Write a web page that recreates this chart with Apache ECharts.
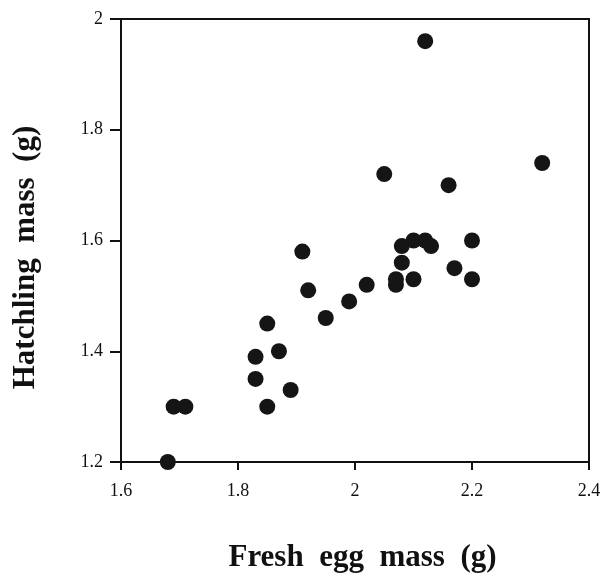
<!DOCTYPE html>
<html>
<head>
<meta charset="utf-8">
<script src="https://cdn.jsdelivr.net/npm/echarts@6/dist/echarts.min.js"></script>
<style>
html,body{margin:0;padding:0;background:#fff;}
#chart{width:603px;height:573px;}
</style>
</head>
<body>
<div id="chart"></div>
<script>
// Fresh egg mass (g)
const eggMass = [2.12, 2.05, 2.16, 2.32, 1.91, 1.92, 1.95, 1.99, 2.02, 2.07, 2.07, 2.10, 2.08, 2.08, 2.10, 2.12, 2.13, 2.20, 2.17, 2.20, 1.85, 1.83, 1.87, 1.83, 1.89, 1.85, 1.69, 1.71, 1.68];
// Hatchling mass (g)
const hatchMass = [1.96, 1.72, 1.70, 1.74, 1.58, 1.51, 1.46, 1.49, 1.52, 1.53, 1.52, 1.53, 1.56, 1.59, 1.60, 1.60, 1.59, 1.60, 1.55, 1.53, 1.45, 1.39, 1.40, 1.35, 1.33, 1.30, 1.30, 1.30, 1.20];
const xTitle = 'Fresh  egg  mass  (g)';
const yTitle = 'Hatchling  mass  (g)';

const points = eggMass.map((x, i) => [x, hatchMass[i]]);
const serif = '"Liberation Serif", "Times New Roman", serif';

const chart = echarts.init(document.getElementById('chart'), null, {renderer: 'canvas'});
chart.setOption({
  animation: false,
  backgroundColor: '#fff',
  grid: {left: 121, right: 14, top: 19, bottom: 111, containLabel: false, outerBoundsMode: 'none',
         show: true, borderColor: '#111', borderWidth: 2, backgroundColor: 'transparent'},
  xAxis: {
    type: 'value', min: 1.6, max: 2.4, interval: 0.2,
    name: xTitle, nameLocation: 'middle', nameGap: 80,
    nameTextStyle: {fontFamily: serif, fontSize: 31, fontWeight: 'bold', color: '#111', padding: [0, 0, 0, 15]},
    axisLine: {show: true, lineStyle: {color: '#111', width: 2}},
    axisTick: {show: true, length: 8, lineStyle: {color: '#111', width: 2}},
    axisLabel: {fontFamily: serif, fontSize: 18, color: '#111', margin: 20},
    splitLine: {show: false}
  },
  yAxis: {
    type: 'value', min: 1.2, max: 2, interval: 0.2,
    name: yTitle, nameLocation: 'middle', nameGap: 80, nameRotate: 90,
    nameTextStyle: {fontFamily: serif, fontSize: 31, fontWeight: 'bold', color: '#111', padding: [0, 34, 0, 0]},
    axisLine: {show: true, lineStyle: {color: '#111', width: 2}},
    axisTick: {show: true, length: 11, lineStyle: {color: '#111', width: 2}},
    axisLabel: {fontFamily: serif, fontSize: 18, color: '#111', margin: 18},
    splitLine: {show: false}
  },
  series: [{
    type: 'scatter',
    data: points,
    symbol: 'circle',
    symbolSize: 16,
    itemStyle: {color: '#151515', opacity: 1}
  }]
});
</script>
</body>
</html>
